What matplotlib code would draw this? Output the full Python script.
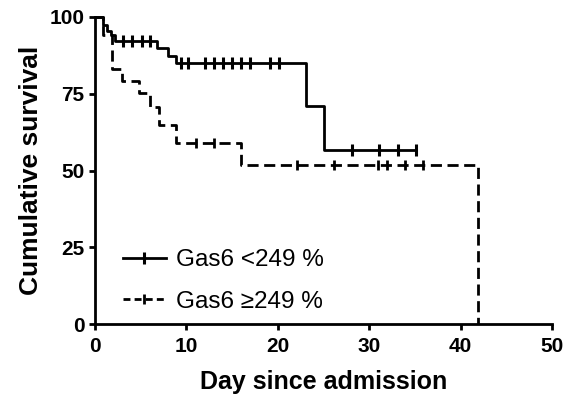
import numpy as np
import matplotlib
matplotlib.use("Agg")
import matplotlib.pyplot as plt
from matplotlib.lines import Line2D

plt.rcParams['font.family'] = ['Liberation Sans', 'DejaVu Sans']

# Kaplan-Meier steps (day, survival %)
low_t = [0, 0.9, 1.3, 1.7, 2.2, 6.8, 8.0, 8.9, 23.1, 25.1, 35.1]
low_s = [100, 97.4, 95.6, 94.2, 92.3, 89.8, 87.3, 85.1, 70.9, 56.6, 56.6]
low_cens = [3.1, 4.0, 5.1, 6.0, 9.4, 10.2, 12.0, 13.0, 14.0, 15.0, 16.0,
            17.0, 19.1, 20.1, 28.1, 31.1, 33.1, 35.1]

high_t = [0, 0.9, 1.9, 2.9, 4.8, 6.0, 7.0, 8.9, 16.0, 41.9]
high_s = [100, 94.1, 83.0, 79.2, 75.3, 70.6, 64.8, 58.9, 51.9, 0]
high_cens = [11.0, 13.0, 22.1, 26.1, 31.0, 31.9, 33.9, 35.9]

labels = ["Gas6 <249 %", "Gas6 \u2265249 %"]
xticks = [0, 10, 20, 30, 40, 50]
yticks = [0, 25, 50, 75, 100]


def level_at(t, s, x):
    idx = np.searchsorted(t, x, side='right') - 1
    return np.array(s)[idx]


fig = plt.figure(figsize=(5.63, 3.96), dpi=100)
ax = fig.add_axes([95 / 563, 1 - 324 / 396, 457 / 563, 307 / 396])

lw = 2.0
dash = (4, 2)
ax.step(low_t, low_s, where='post', color='black', lw=lw, clip_on=False)
ax.plot(low_cens, level_at(low_t, low_s, low_cens), ls='none', marker='|',
        ms=9, mew=2.2, color='black', clip_on=False)
ax.step(high_t, high_s, where='post', color='black', lw=lw,
        dashes=dash, clip_on=False)
ax.plot(high_cens, level_at(high_t, high_s, high_cens), ls='none', marker='|',
        ms=7, mew=2.0, color='black', clip_on=False)

ax.set_xlim(0, 50)
ax.set_ylim(0, 100)
ax.set_xticks(xticks)
ax.set_yticks(yticks)
for side in ['top', 'right']:
    ax.spines[side].set_visible(False)
for side in ['left', 'bottom']:
    ax.spines[side].set_linewidth(2.0)
ax.tick_params(direction='out', length=4.5, width=2.0, labelsize=15, pad=3)
ax.tick_params(axis='x', pad=5)
for lab in ax.get_xticklabels() + ax.get_yticklabels():
    lab.set_fontweight('bold')

ax.set_xlabel("Day since admission", fontsize=18, fontweight='bold', labelpad=10)
ax.set_ylabel("Cumulative survival", fontsize=19, fontweight='bold', labelpad=5)

handles = [
    Line2D([], [], color='black', lw=lw, marker='|', ms=9, mew=2.2),
    Line2D([], [], color='black', lw=lw, dashes=(2.5, 1.5), marker='|', ms=7, mew=2.0),
]
ax.legend(handles, labels, loc='lower left', bbox_to_anchor=(0.013, -0.035),
          frameon=False, fontsize=17.5, handlelength=1.77, handletextpad=0.4,
          labelspacing=0.8, markerfirst=True)

fig.savefig("out.png", dpi=100)
